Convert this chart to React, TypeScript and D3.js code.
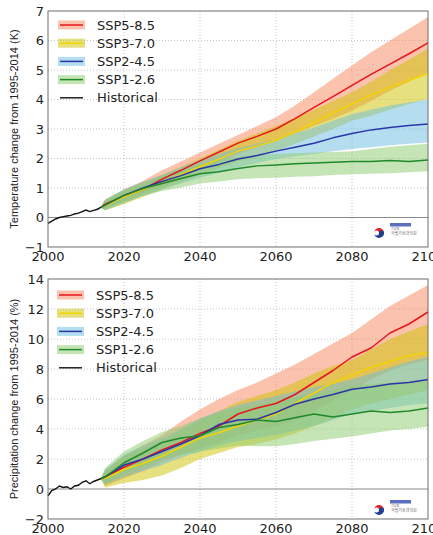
import React from "react";
import * as d3 from "d3";

// years
const histYears = [2000, 2001, 2002, 2003, 2004, 2005, 2006, 2007, 2008, 2009, 2010, 2011, 2012, 2013, 2014];
const projYears = [2014, 2015, 2020, 2025, 2030, 2035, 2040, 2045, 2050, 2055, 2060, 2065, 2070, 2075, 2080, 2085, 2090, 2095, 2100];

const scenarios = ["SSP5-8.5", "SSP3-7.0", "SSP2-4.5", "SSP1-2.6"];
const lineColors = ["#e8141c", "#f2d300", "#2b35a8", "#1f8a2a"];
const bandColors = ["#f7875b", "#cdc100", "#69bde1", "#8dcb6d"];

// temperature (K)
const tempHist = [-0.2, -0.12, -0.05, 0.0, 0.03, 0.05, 0.07, 0.12, 0.15, 0.2, 0.25, 0.2, 0.24, 0.28, 0.35];
const t585Mean = [0.35, 0.45, 0.72, 0.95, 1.3, 1.6, 1.92, 2.22, 2.52, 2.75, 3.0, 3.35, 3.73, 4.1, 4.48, 4.85, 5.2, 5.55, 5.92];
const t585Low = [0.32, 0.3, 0.55, 0.8, 1.05, 1.3, 1.6, 1.9, 2.15, 2.38, 2.6, 2.85, 3.1, 3.35, 3.62, 3.95, 4.3, 4.6, 4.93];
const t585High = [0.38, 0.6, 0.95, 1.25, 1.6, 1.9, 2.2, 2.5, 2.8, 3.1, 3.4, 3.8, 4.25, 4.7, 5.15, 5.6, 6.0, 6.4, 6.8];
const t370Mean = [0.35, 0.4, 0.7, 0.95, 1.2, 1.45, 1.72, 1.98, 2.25, 2.42, 2.62, 2.9, 3.22, 3.55, 3.85, 4.15, 4.42, 4.65, 4.88];
const t370Low = [0.32, 0.25, 0.45, 0.7, 0.95, 1.2, 1.45, 1.68, 1.9, 2.05, 2.25, 2.5, 2.75, 3.0, 3.28, 3.45, 3.65, 3.85, 4.02];
const t370High = [0.38, 0.55, 0.9, 1.15, 1.45, 1.72, 2.0, 2.3, 2.6, 2.85, 3.1, 3.38, 3.65, 3.95, 4.25, 4.6, 5.0, 5.35, 5.73];
const t245Mean = [0.35, 0.42, 0.75, 1.0, 1.22, 1.42, 1.65, 1.8, 1.98, 2.1, 2.25, 2.38, 2.52, 2.7, 2.85, 2.97, 3.05, 3.12, 3.17];
const t245Low = [0.32, 0.25, 0.5, 0.75, 0.95, 1.15, 1.35, 1.52, 1.7, 1.85, 1.98, 2.08, 2.15, 2.25, 2.32, 2.38, 2.45, 2.5, 2.54];
const t245High = [0.38, 0.6, 0.95, 1.2, 1.45, 1.7, 1.95, 2.15, 2.35, 2.5, 2.65, 2.85, 3.05, 3.28, 3.5, 3.65, 3.8, 3.9, 4.0];
const t126Mean = [0.35, 0.42, 0.75, 0.98, 1.15, 1.32, 1.48, 1.55, 1.66, 1.75, 1.78, 1.82, 1.85, 1.87, 1.9, 1.9, 1.93, 1.9, 1.95];
const t126Low = [0.32, 0.25, 0.5, 0.72, 0.9, 1.02, 1.15, 1.22, 1.3, 1.33, 1.35, 1.38, 1.4, 1.44, 1.47, 1.48, 1.5, 1.53, 1.57];
const t126High = [0.38, 0.6, 0.95, 1.2, 1.4, 1.62, 1.8, 1.95, 2.05, 2.1, 2.15, 2.18, 2.2, 2.22, 2.25, 2.32, 2.4, 2.45, 2.5];

// precipitation (%)
const precHist = [-0.45, -0.1, 0.0, 0.2, 0.1, 0.15, 0.0, 0.2, 0.25, 0.45, 0.55, 0.35, 0.5, 0.6, 0.7];
const p585Mean = [0.7, 0.8, 1.45, 2.0, 2.6, 3.1, 3.7, 4.2, 5.0, 5.4, 5.7, 6.3, 7.1, 7.9, 8.8, 9.4, 10.4, 11.0, 11.8];
const p585Low = [0.65, 0.2, 0.7, 1.2, 1.8, 2.3, 2.7, 3.1, 3.6, 3.9, 4.15, 4.6, 5.2, 5.9, 6.6, 7.3, 7.9, 8.3, 8.6];
const p585High = [0.75, 1.2, 2.2, 2.9, 3.6, 4.5, 5.3, 6.0, 6.6, 7.1, 7.7, 8.3, 9.0, 9.7, 10.4, 11.3, 12.2, 12.9, 13.6];
const p370Mean = [0.7, 0.7, 1.3, 1.7, 2.2, 2.8, 3.4, 3.75, 4.2, 4.6, 5.0, 5.7, 6.4, 7.1, 7.6, 8.1, 8.5, 8.9, 9.1];
const p370Low = [0.65, 0.1, 0.4, 0.6, 0.9, 1.4, 2.0, 2.4, 2.8, 3.0, 3.3, 3.7, 4.2, 4.7, 5.3, 5.7, 6.0, 6.3, 6.6];
const p370High = [0.75, 1.2, 2.2, 2.7, 3.2, 3.9, 4.6, 5.2, 5.8, 6.2, 6.6, 7.1, 7.7, 8.2, 8.6, 9.3, 10.0, 10.5, 11.0];
const p245Mean = [0.7, 0.8, 1.6, 2.0, 2.5, 3.0, 3.55, 4.3, 4.6, 4.65, 5.1, 5.65, 6.0, 6.3, 6.65, 6.8, 7.0, 7.1, 7.3];
const p245Low = [0.65, 0.3, 0.8, 1.2, 1.6, 2.1, 2.5, 2.9, 3.2, 3.4, 3.6, 3.9, 4.2, 4.6, 5.0, 5.2, 5.4, 5.6, 5.7];
const p245High = [0.75, 1.3, 2.3, 2.9, 3.4, 4.0, 4.7, 5.2, 5.6, 5.9, 6.2, 6.5, 6.8, 7.0, 7.3, 7.7, 8.1, 8.5, 8.8];
const p126Mean = [0.7, 0.8, 1.75, 2.4, 3.1, 3.4, 3.55, 4.1, 4.3, 4.6, 4.5, 4.75, 5.0, 4.8, 5.0, 5.2, 5.1, 5.2, 5.4];
const p126Low = [0.65, 0.3, 1.0, 1.5, 2.0, 2.3, 2.5, 2.7, 2.9, 2.85, 2.85, 3.0, 3.2, 3.35, 3.5, 3.7, 3.9, 4.0, 4.15];
const p126High = [0.75, 1.4, 2.5, 3.2, 3.8, 4.2, 4.7, 5.1, 5.4, 5.6, 5.9, 6.1, 6.3, 6.6, 6.9, 7.0, 7.1, 7.2, 7.3];

const tempTicks = [-1, 0, 1, 2, 3, 4, 5, 6, 7];
const precTicks = [-2, 0, 2, 4, 6, 8, 10, 12, 14];
const xTicks = [2000, 2020, 2040, 2060, 2080, 2100];

const W = 433, H = 535;
const left = 48, right = 428;

function Logo({ x, y }) {
  // small KMA / NIMS emblem
  return (
    <g transform={`translate(${x},${y})`}>
      <path d="M-5,0 A5,5 0 0,1 5,0 A2.5,2.5 0 0,1 0,0 A2.5,2.5 0 0,0 -5,0 Z" fill="#d8262c" />
      <path d="M-5,0 A2.5,2.5 0 0,0 0,0 A2.5,2.5 0 0,1 5,0 A5,5 0 0,1 -5,0 Z" fill="#1d3f94" />
      <rect x={11} y={-10} width={21} height={3.5} fill="#5a6fc0" />
      <text x={12} y={-3} fontSize={3} fill="#666" fontFamily="Noto Sans CJK KR">기상청</text>
      <text x={12} y={2} fontSize={4} fill="#666" fontFamily="Noto Sans CJK KR">국립기상과학원</text>
    </g>
  );
}

function Panel({ top, bottom, domain, ticks, title, hist, means, lows, highs, legendY, legendX, logoY }) {
  const x = d3.scaleLinear().domain([2000, 2100]).range([left, right]);
  const y = d3.scaleLinear().domain(domain).range([bottom, top]);
  const fmt = d3.format("d");
  const line = d3.line<number>().x((d, i) => x(projYears[i])).y(d => y(d));
  const hline = d3.line<number>().x((d, i) => x(histYears[i])).y(d => y(d));
  const area = (lo: number[], hi: number[]) =>
    d3.area<number>().x((d, i) => x(projYears[i])).y0((d, i) => y(lo[i])).y1(d => y(d))(hi);
  const midY = (top + bottom) / 2;
  return (
    <g>
      {/* grid */}
      {xTicks.slice(1, -1).map(t => (
        <line key={"gx" + t} x1={x(t)} x2={x(t)} y1={top} y2={bottom} stroke="#b5b5b5" strokeWidth={0.8} strokeDasharray="1,2" />
      ))}
      {ticks.slice(1, -1).filter(t => t !== 0).map(t => (
        <line key={"gy" + t} x1={left} x2={right} y1={y(t)} y2={y(t)} stroke="#b5b5b5" strokeWidth={0.8} strokeDasharray="1,2" />
      ))}
      <line x1={left} x2={right} y1={y(0)} y2={y(0)} stroke="#8a8a8a" strokeWidth={1} />
      {/* bands */}
      {highs.map((hi, k) => (
        <path key={"b" + k} d={area(lows[k], hi)} fill={bandColors[k]} fillOpacity={0.5} stroke="none" />
      ))}
      {/* lines */}
      <path d={hline(hist)} fill="none" stroke="#111" strokeWidth={1.4} />
      {means.map((m, k) => (
        <path key={"l" + k} d={line(m)} fill="none" stroke={lineColors[k]} strokeWidth={1.5} strokeLinejoin="round" />
      ))}
      {/* frame */}
      <rect x={left} y={top} width={right - left} height={bottom - top} fill="none" stroke="#6e6e6e" strokeWidth={1} />
      {/* y ticks */}
      {ticks.map(t => (
        <text key={"ty" + t} x={left - 4} y={y(t)} dy="0.36em" textAnchor="end" fontSize={13} fontFamily="DejaVu Sans" fill="#222">
          {fmt(t)}
        </text>
      ))}
      {xTicks.map(t => (
        <text key={"tx" + t} x={x(t)} y={bottom + 14} textAnchor="middle" fontSize={13} fontFamily="DejaVu Sans" fill="#222">
          {t}
        </text>
      ))}
      <text transform={`translate(18,${midY}) rotate(-90)`} textAnchor="middle" fontSize={11} fontFamily="Liberation Sans" fill="#222">
        {title}
      </text>
      {/* legend */}
      {scenarios.map((s, k) => (
        <g key={"lg" + k} transform={`translate(${legendX},${legendY + k * 18.2})`}>
          <rect x={-2} y={-4.5} width={27} height={9} fill={bandColors[k]} fillOpacity={0.5} />
          <line x1={0} x2={23} y1={0} y2={0} stroke={lineColors[k]} strokeWidth={1.5} />
          <text x={37} y={0} dy="0.36em" fontSize={13} fontFamily="DejaVu Sans" fill="#222">{s}</text>
        </g>
      ))}
      <g transform={`translate(${legendX},${legendY + 4 * 18.2})`}>
        <line x1={0} x2={23} y1={0} y2={0} stroke="#111" strokeWidth={1.4} />
        <text x={37} y={0} dy="0.36em" fontSize={13} fontFamily="DejaVu Sans" fill="#222">Historical</text>
      </g>
      <Logo x={379} y={logoY} />
    </g>
  );
}

export default function App() {
  return (
    <svg width={W} height={H} style={{ position: "absolute", left: 0, top: 0, background: "#fff" }}>
      <rect width={W} height={H} fill="#fff" />
      <Panel
        top={11}
        bottom={247}
        domain={[-1, 7]}
        ticks={tempTicks}
        title="Temperature change from 1995-2014 (K)"
        hist={tempHist}
        means={[t585Mean, t370Mean, t245Mean, t126Mean]}
        lows={[t585Low, t370Low, t245Low, t126Low]}
        highs={[t585High, t370High, t245High, t126High]}
        legendX={60}
        legendY={25}
        logoY={233}
      />
      <Panel
        top={279}
        bottom={519}
        domain={[-2, 14]}
        ticks={precTicks}
        title="Precipitation change from 1995-2014 (%)"
        hist={precHist}
        means={[p585Mean, p370Mean, p245Mean, p126Mean]}
        lows={[p585Low, p370Low, p245Low, p126Low]}
        highs={[p585High, p370High, p245High, p126High]}
        legendX={59}
        legendY={295}
        logoY={510}
      />
    </svg>
  );
}
